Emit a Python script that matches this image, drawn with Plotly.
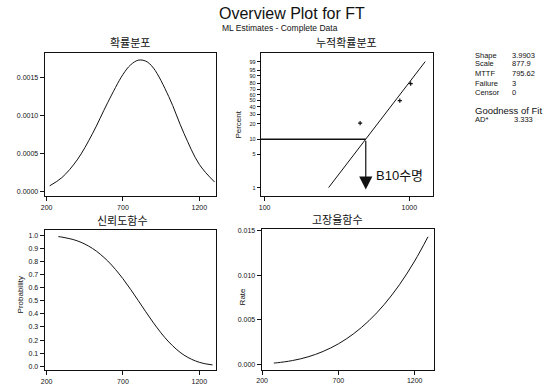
import numpy as np
import plotly.graph_objects as go

W, H = 553, 385

# ---------------- data ----------------
pdf_x = [220, 300, 400, 500, 600, 700, 750, 800, 850, 900, 1000, 1100, 1200, 1300]
pdf_y = [0.000071, 0.000179, 0.000412, 0.000756, 0.001167, 0.001538, 0.001664,
         0.001726, 0.001713, 0.001622, 0.001247, 0.000760, 0.000354, 0.000121]

rel_x = [277, 300, 400, 500, 600, 700, 800, 900, 1000, 1100, 1200, 1287]
rel_y = [0.990, 0.986, 0.958, 0.900, 0.804, 0.668, 0.502, 0.331, 0.186, 0.085, 0.030, 0.010]

haz_x = [277, 300, 400, 500, 600, 700, 800, 900, 1000, 1100, 1200, 1287]
haz_y = [0.000143, 0.000181, 0.000430, 0.000839, 0.001451, 0.002304, 0.003440,
         0.004897, 0.006717, 0.008940, 0.011608, 0.014321]

fail_x = [457, 859, 1021]
fail_pct = [20.6, 50.0, 79.4]
fit_x = [277, 1287]
fit_pct = [1, 99]
b10_x = 500
b10_pct = 10

pct_ticks = [1, 5, 10, 20, 30, 40, 50, 60, 70, 80, 90, 95, 99]

stat_labels = ["Shape", "Scale", "MTTF", "Failure", "Censor"]
stat_values = ["3.9903", "877.9", "795.62", "3", "0"]
gof_label = "AD*"
gof_value = "3.333"

# ---------------- helpers ----------------
def wz(p):
    p = np.asarray(p, dtype=float) / 100.0
    return np.log(-np.log(1 - p))

def dxd(a, b):
    return [a / W, b / W]

def dyd(top, bottom):
    return [1 - bottom / H, 1 - top / H]

FONT = "Arial, 'Liberation Sans', 'Noto Sans CJK KR', sans-serif"
KFONT = "'Noto Sans CJK KR', 'Noto Sans', sans-serif"
BLK = "#111111"

fig = go.Figure()
line = dict(color=BLK, width=1)

fig.add_trace(go.Scatter(x=pdf_x, y=pdf_y, mode="lines", line=dict(shape="spline", **line),
                         xaxis="x", yaxis="y", showlegend=False))
fig.add_trace(go.Scatter(x=fit_x, y=wz(fit_pct), mode="lines", line=line,
                         xaxis="x2", yaxis="y2", showlegend=False))
fig.add_trace(go.Scatter(x=fail_x, y=wz(fail_pct), mode="markers",
                         marker=dict(symbol="cross-thin", size=3, line=dict(color=BLK, width=1.2)),
                         xaxis="x2", yaxis="y2", showlegend=False))

xr2 = [1.973, 3.164]
yr2 = [-5.03, 1.943]
fig.add_trace(go.Scatter(x=[10 ** xr2[0], b10_x], y=wz([b10_pct, b10_pct]), mode="lines",
                         line=dict(color=BLK, width=1.3), xaxis="x2", yaxis="y2", showlegend=False))

fig.add_trace(go.Scatter(x=rel_x, y=rel_y, mode="lines", line=dict(shape="spline", **line),
                         xaxis="x3", yaxis="y3", showlegend=False))
fig.add_trace(go.Scatter(x=haz_x, y=haz_y, mode="lines", line=dict(shape="spline", **line),
                         xaxis="x4", yaxis="y4", showlegend=False))

ax_common = dict(showline=True, mirror=True, linecolor=BLK, linewidth=1, ticks="outside",
                 ticklen=4, tickcolor=BLK, showgrid=False, zeroline=False,
                 tickfont=dict(family=FONT, size=7, color=BLK))
ax_pct = dict(ax_common)
ax_pct["tickfont"] = dict(family=FONT, size=5.5, color=BLK)
ax_pct["ticklen"] = 3

fig.update_layout(
    width=W, height=H, margin=dict(l=0, r=0, t=0, b=0),
    paper_bgcolor="white", plot_bgcolor="white",
    xaxis=dict(domain=dxd(40, 213), range=[187, 1310], tickvals=[200, 700, 1200],
               anchor="y", **ax_common),
    yaxis=dict(domain=dyd(52, 198), range=[-0.0000685, 0.00182],
               tickvals=[0, 0.0005, 0.001, 0.0015], tickformat=".4f", anchor="x", **ax_common),
    xaxis2=dict(domain=dxd(258, 432), type="log", range=xr2, tickvals=[100, 1000],
                ticktext=["100", "1000"], anchor="y2", **ax_common),
    yaxis2=dict(domain=dyd(52, 198), range=yr2, tickvals=list(wz(pct_ticks)),
                ticktext=[str(p) for p in pct_ticks], anchor="x2", **ax_pct),
    xaxis3=dict(domain=dxd(40, 213), range=[187, 1310], tickvals=[200, 700, 1200],
                anchor="y3", **ax_common),
    yaxis3=dict(domain=dyd(232, 375), range=[-0.03, 1.042],
                tickvals=[round(v * 0.1, 1) for v in range(11)], tickformat=".1f",
                anchor="x3", **ax_common),
    xaxis4=dict(domain=dxd(259, 433), range=[197, 1327], tickvals=[200, 700, 1200],
                anchor="y4", **ax_common),
    yaxis4=dict(domain=dyd(231, 374.5), range=[-0.0006, 0.01522],
                tickvals=[0, 0.005, 0.010, 0.015], tickformat=".3f", anchor="x4", **ax_common),
)

ann = []

def txt(x, y, s, size, family=FONT, xanchor="center", angle=0):
    ann.append(dict(x=x / W, y=1 - y / H, xref="paper", yref="paper", text=s, showarrow=False,
                    xanchor=xanchor, yanchor="middle", textangle=angle,
                    font=dict(family=family, size=size, color=BLK)))

txt(290, 12, "Overview Plot for FT", 16)
txt(278, 26, "ML Estimates - Complete Data", 8.5)
txt(126, 41, "확률분포", 11, KFONT)
txt(345, 41, "누적확률분포", 11, KFONT)
txt(119, 222, "신뢰도함수", 11, KFONT)
txt(336, 221, "고장율함수", 11, KFONT)
txt(236, 125, "Percent", 8, angle=-90)
txt(16, 298, "Probability", 8, angle=-90)
txt(240, 300, "Rate", 8, angle=-90)
txt(398, 177, "B10수명", 13, FONT)

stat_y = [54, 63, 73, 83, 92]
for lab, val, yy in zip(stat_labels, stat_values, stat_y):
    txt(472, yy, lab, 7.5, xanchor="left")
    txt(510, yy, val, 7.5, xanchor="left")
txt(472, 110, "Goodness of Fit", 9.5, xanchor="left")
txt(472, 120, gof_label, 7.5, xanchor="left")
txt(512, 120, gof_value, 7.5, xanchor="left")

# B10 arrow
z10 = float(wz([b10_pct])[0])
ann.append(dict(x=np.log10(b10_x), y=-4.70, xref="x2", yref="y2",
                ax=np.log10(b10_x), ay=z10, axref="x2", ayref="y2", showarrow=True,
                arrowhead=2, arrowsize=2.2, arrowwidth=1.2, arrowcolor=BLK, text=""))

fig.update_layout(annotations=ann)
fig.write_html("out.html")
